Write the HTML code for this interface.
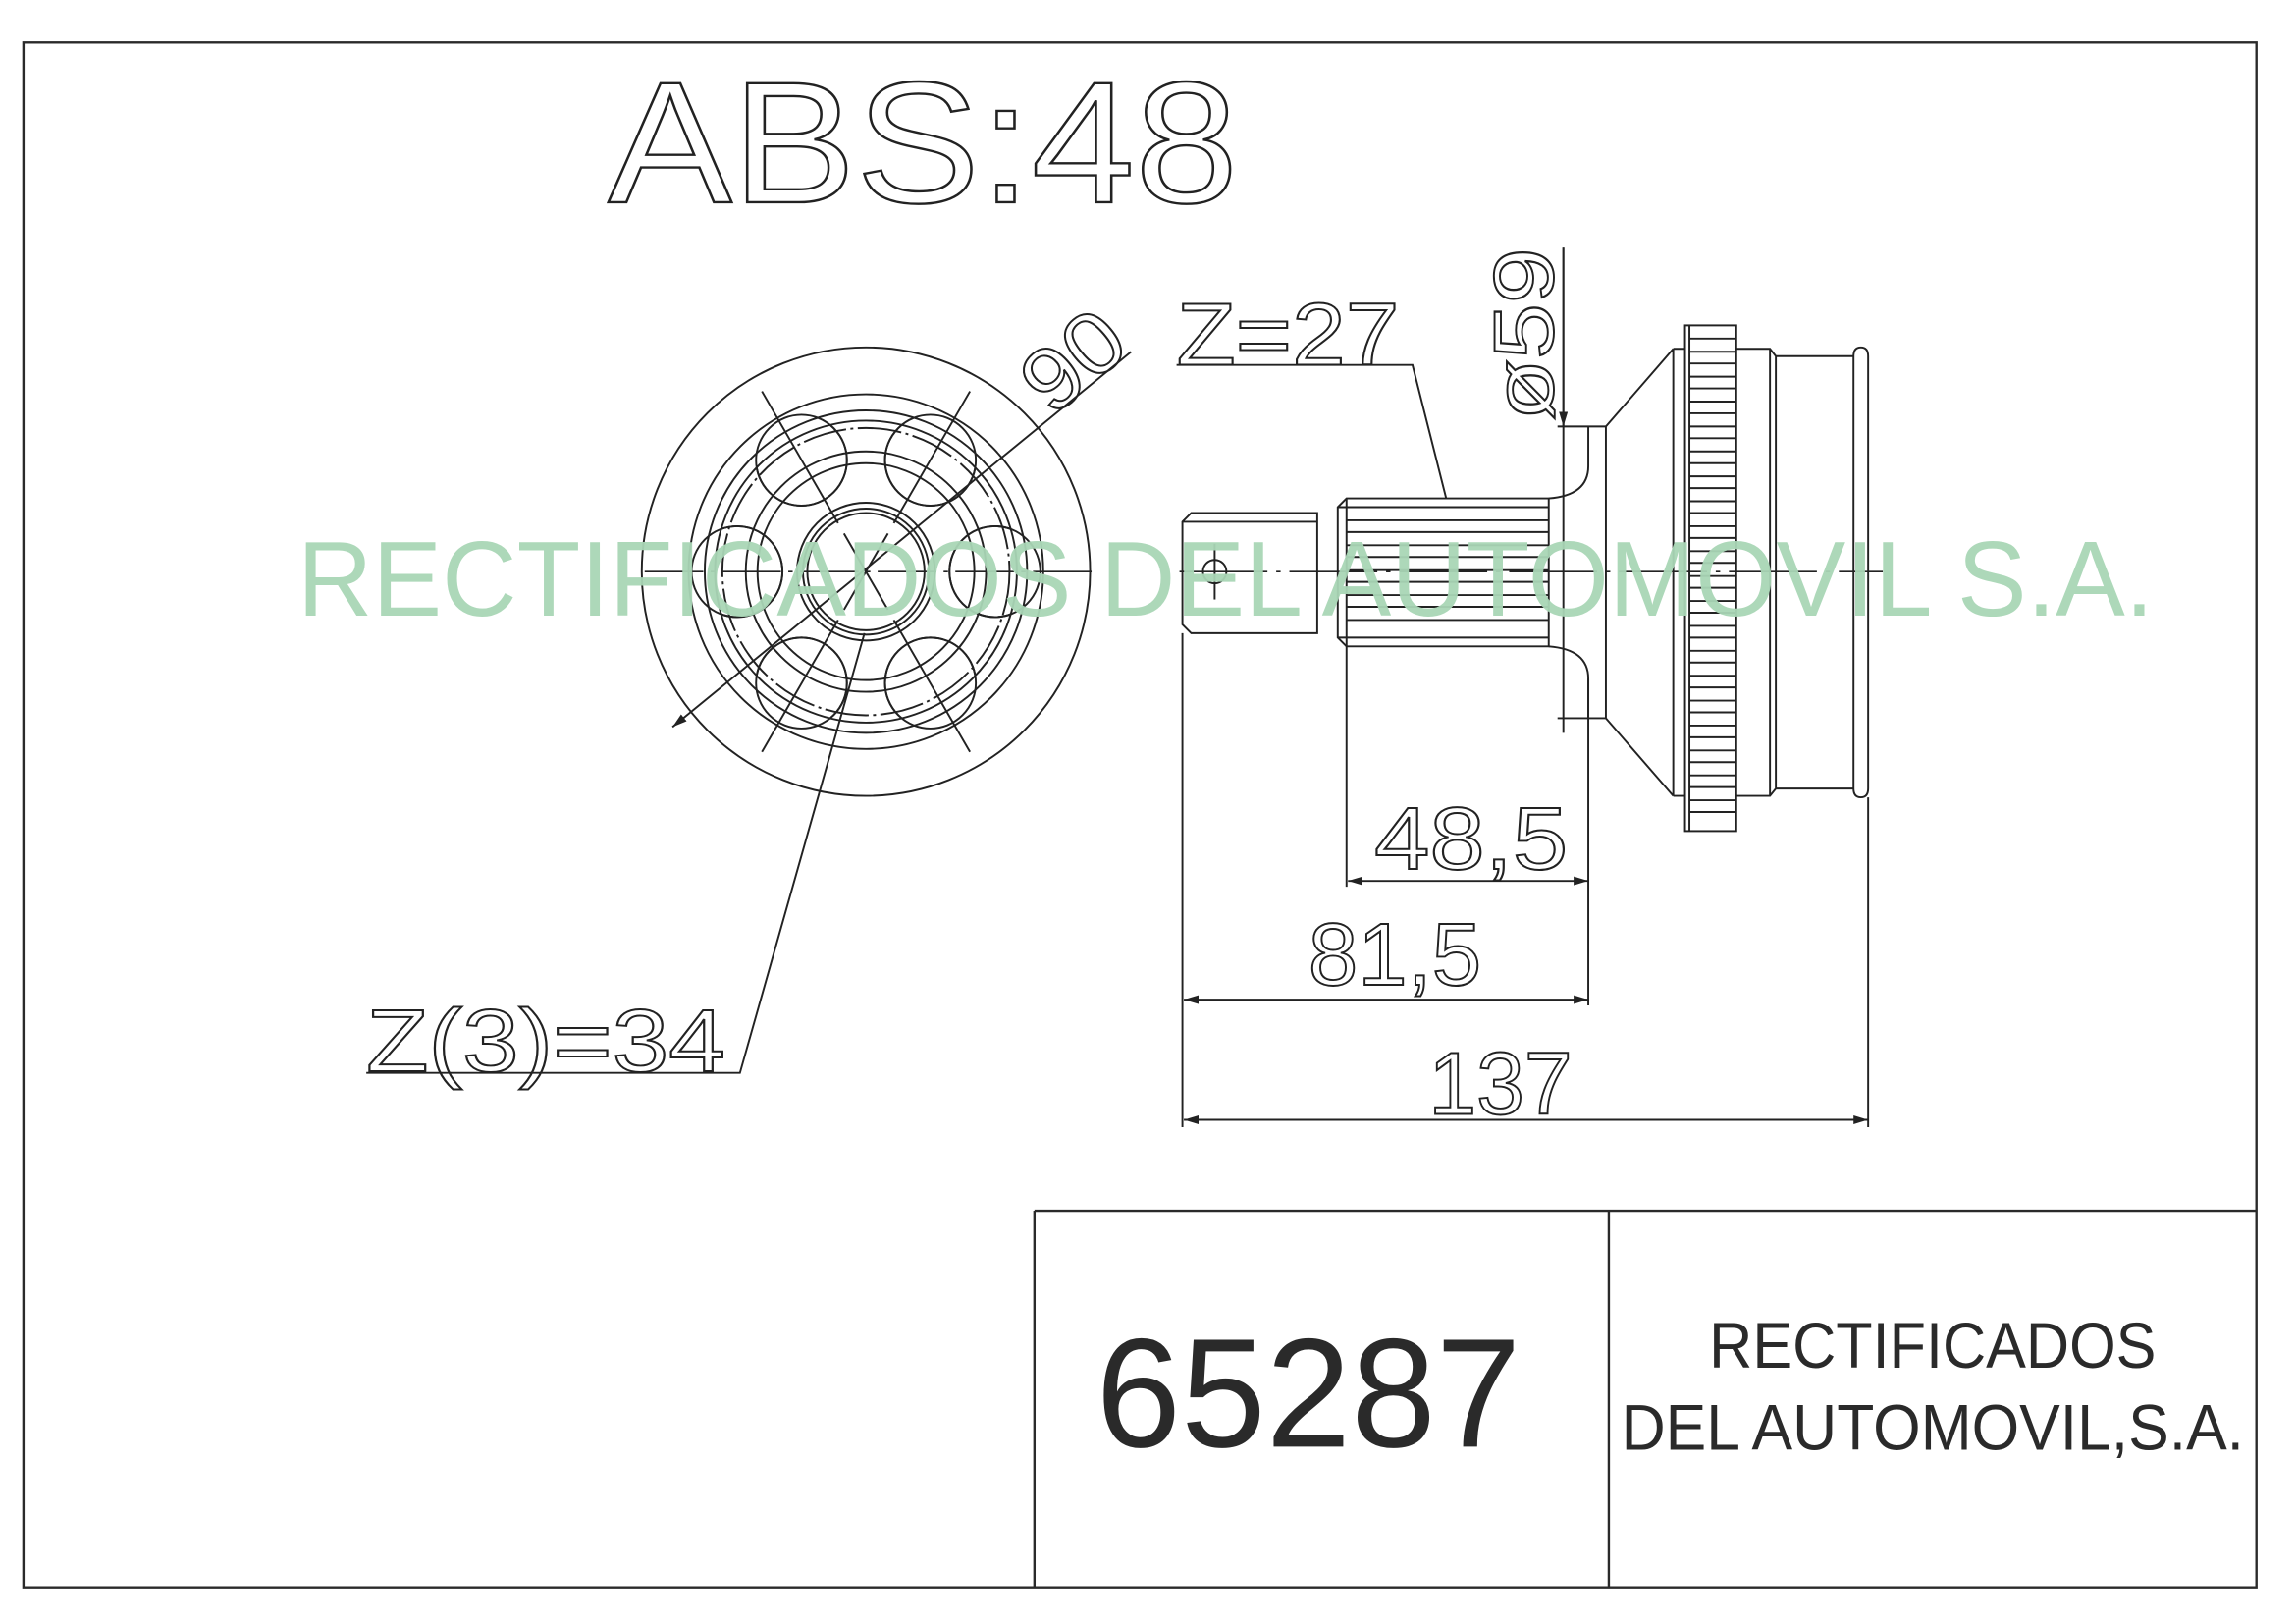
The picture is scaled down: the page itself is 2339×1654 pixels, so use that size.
<!DOCTYPE html>
<html><head><meta charset="utf-8"><style>html,body{margin:0;padding:0;background:#fff}svg{display:block}</style></head>
<body>
<svg width="2339" height="1654" viewBox="0 0 1567 1108" preserveAspectRatio="none" xmlns="http://www.w3.org/2000/svg" font-family="Liberation Sans, sans-serif">
<defs>
<clipPath id="outerAnn"><path fill-rule="evenodd" d="M591,390 m-153,0 a153,153 0 1,0 306,0 a153,153 0 1,0 -306,0 Z M591,390 m-110,0 a110,110 0 1,0 220,0 a110,110 0 1,0 -220,0 Z"/></clipPath>
<clipPath id="innerAnn"><path fill-rule="evenodd" d="M591,390 m-103,0 a103,103 0 1,0 206,0 a103,103 0 1,0 -206,0 Z M591,390 m-47,0 a47,47 0 1,0 94,0 a47,47 0 1,0 -94,0 Z"/></clipPath>
<marker id="ar" viewBox="0 0 10 6" refX="10" refY="3" markerWidth="10" markerHeight="6" orient="auto-start-reverse" markerUnits="userSpaceOnUse"><path d="M0,0 L10,3 L0,6 Z" fill="#222"/></marker>
</defs>
<g fill="none" stroke="#2a2a2a" stroke-width="1.6">
<rect x="16" y="29" width="1524" height="1054"/>
<path d="M706,826 H1540 M706,826 V1083 M1098,826 V1083"/>
</g>
<text x="893" y="987" font-size="106" text-anchor="middle" fill="#2a2a2a" textLength="290" lengthAdjust="spacingAndGlyphs">65287</text>
<text x="1319" y="933" font-size="44" text-anchor="middle" fill="#2a2a2a" textLength="305" lengthAdjust="spacingAndGlyphs">RECTIFICADOS</text>
<text x="1319" y="989" font-size="44" text-anchor="middle" fill="#2a2a2a" textLength="425" lengthAdjust="spacingAndGlyphs">DEL AUTOMOVIL,S.A.</text>

<g fill="none" stroke="#222" stroke-width="1.3">
<text x="415" y="138" font-size="118" textLength="430" lengthAdjust="spacingAndGlyphs" stroke-width="1.6">ABS:48</text>
<text x="803" y="249" font-size="60" textLength="152" lengthAdjust="spacingAndGlyphs">Z=27</text>
<text x="250" y="731" font-size="60" textLength="245" lengthAdjust="spacingAndGlyphs">Z(3)=34</text>
<text x="938" y="593" font-size="60" textLength="132" lengthAdjust="spacingAndGlyphs">48,5</text>
<text x="893" y="672" font-size="60" textLength="118" lengthAdjust="spacingAndGlyphs">81,5</text>
<text x="975" y="760" font-size="60" textLength="98" lengthAdjust="spacingAndGlyphs">137</text>
<text transform="translate(1060,287) rotate(-90)" font-size="58" textLength="118" lengthAdjust="spacingAndGlyphs">ø59</text>
<text transform="translate(718,285) rotate(-40)" font-size="60" textLength="72" lengthAdjust="spacingAndGlyphs">90</text>

<circle cx="591" cy="390" r="153"/>
<circle cx="591" cy="390" r="121"/>
<circle cx="591" cy="390" r="110"/>
<circle cx="591" cy="390" r="103"/>
<circle cx="591" cy="390" r="98" stroke-dasharray="30 3 2 3"/>
<circle cx="591" cy="390" r="82"/>
<circle cx="591" cy="390" r="74"/>
<circle cx="591" cy="390" r="47"/>
<circle cx="591" cy="390" r="43"/>
<circle cx="591" cy="390" r="40"/>
<g clip-path="url(#outerAnn)">
<circle cx="679" cy="390" r="31"/><circle cx="503" cy="390" r="31"/>
<circle cx="635" cy="314" r="31"/><circle cx="547" cy="314" r="31"/>
<circle cx="635" cy="466" r="31"/><circle cx="547" cy="466" r="31"/>
</g>
<g clip-path="url(#innerAnn)">
<circle cx="679" cy="390" r="31"/><circle cx="503" cy="390" r="31"/>
<circle cx="635" cy="314" r="31"/><circle cx="547" cy="314" r="31"/>
<circle cx="635" cy="466" r="31"/><circle cx="547" cy="466" r="31"/>
</g>
<path d="M520,267 L572,357 M610,423 L662,513 M662,267 L610,357 M572,423 L520,513 M576,364 L606,416 M606,364 L576,416"/>
<path d="M440,390 H745" stroke-dasharray="40 5 3 5" stroke-width="1.1"/>
<path d="M459,496 L772,240" marker-start="url(#ar)"/>
<path d="M590,432 L505,732 H250"/>

<path d="M805,390 H1285" stroke-dasharray="60 6 3 6" stroke-width="1.1"/>
<path d="M813,350 H899 V432 H813 L807,426 V356 Z"/>
<path d="M807,356 H899"/>
<circle cx="829" cy="390" r="8"/>
<path d="M829,371 V409"/>
<path d="M919,340 H1057 V441 H919 L913,435 V346 Z"/>
<path d="M913,346 H1057 M913,435 H1057 M919,340 V441"/>
<path d="M919,355 H1057 M919,363 H1057 M919,372 H1057 M919,380 H1057 M919,389 H1057 M919,397 H1057 M919,406 H1057 M919,414 H1057 M919,423 H1057"/>
<path d="M1057,340 Q1084,338 1084,318 V291 H1063 M1084,291 H1096 M1057,441 Q1084,443 1084,463 V490 H1063 M1084,490 H1096"/>
<path d="M1067,169 V500" />
<path d="M1067,169 V291" marker-end="url(#ar)"/>
<path d="M1096,291 V490 M1096,291 L1142,238 M1096,490 L1142,543 M1142,238 V543"/>
<rect x="1150" y="222" width="35" height="345"/>
<path d="M1153,222 V567"/>
<path d="M1153,231H1185M1153,240H1185M1153,248H1185M1153,257H1185M1153,265H1185M1153,274H1185M1153,282H1185M1153,291H1185M1153,299H1185M1153,308H1185M1153,316H1185M1153,325H1185M1153,333H1185M1153,342H1185M1153,350H1185M1153,359H1185M1153,367H1185M1153,376H1185M1153,384H1185M1153,393H1185M1153,401H1185M1153,410H1185M1153,418H1185M1153,427H1185M1153,435H1185M1153,444H1185M1153,452H1185M1153,461H1185M1153,469H1185M1153,478H1185M1153,486H1185M1153,495H1185M1153,503H1185M1153,512H1185M1153,520H1185M1153,529H1185M1153,537H1185M1153,546H1185M1153,554H1185"/>
<path d="M1142,238 H1150 M1142,543 H1150"/>
<path d="M1185,238 H1208 L1212,243 H1265 M1185,543 H1208 L1212,538 H1265 M1208,238 V543 M1212,243 V538"/>
<path d="M1265,243 Q1265,237 1270,237 Q1275,237 1275,243 V538 Q1275,544 1270,544 Q1265,544 1265,538 Z"/>

<path d="M919,441 V605 M1084,463 V686 M807,432 V769 M1275,544 V769"/>
<path d="M920,601 H1084" marker-start="url(#ar)" marker-end="url(#ar)"/>
<path d="M808,682 H1084" marker-start="url(#ar)" marker-end="url(#ar)"/>
<path d="M808,764 H1275" marker-start="url(#ar)" marker-end="url(#ar)"/>
<path d="M803,249 H964 L987,340"/>
</g>

<text x="203" y="420" font-size="73" fill="#a9d6b6" textLength="1267" lengthAdjust="spacingAndGlyphs" opacity="0.95">RECTIFICADOS DEL AUTOMOVIL S.A.</text>
</svg>
</body></html>
